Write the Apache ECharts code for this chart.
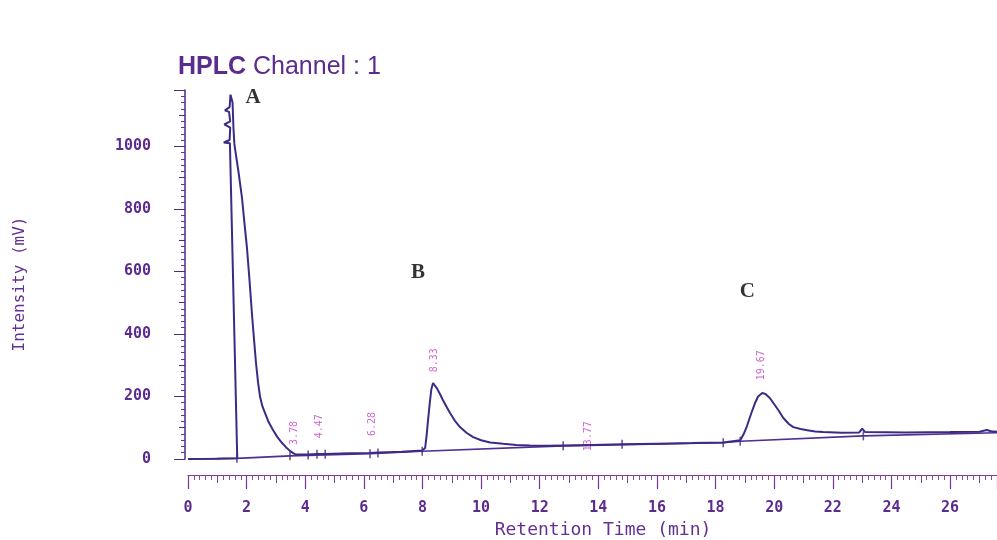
<!DOCTYPE html>
<html>
<head>
<meta charset="utf-8">
<script src="https://cdn.jsdelivr.net/npm/echarts@6/dist/echarts.min.js"></script>
<style>
html,body{margin:0;padding:0;background:#fff;}
#hplc{width:997px;height:540px;}
</style>
</head>
<body>
<div id="hplc"></div>
<script>
// detector trace: retention time (min) / intensity (mV)
const traceTime = [0, 1.0, 1.68, 1.43, 1.22, 1.42, 1.44, 1.24, 1.44, 1.40, 1.26, 1.42, 1.45, 1.52, 1.55, 1.58, 1.60,
  1.72, 1.84, 1.92, 2.01, 2.10, 2.18, 2.25, 2.32, 2.39, 2.46, 2.54, 2.63, 2.75, 2.90, 3.05, 3.21, 3.35, 3.48, 3.60, 3.69,
  4.1, 4.4, 4.7, 5.5, 6.2, 6.5, 7.3, 7.99,
  8.09, 8.14, 8.19, 8.25, 8.30, 8.36, 8.42, 8.50, 8.60, 8.70, 8.82, 8.94, 9.10, 9.28, 9.50, 9.73, 10.0, 10.31, 10.75, 11.2, 11.67, 12.3, 12.8,
  13.8, 14.81, 16.0, 17.2, 18.26,
  18.84, 18.95, 19.05, 19.15, 19.25, 19.35, 19.45, 19.59, 19.70, 19.85, 19.97, 20.15, 20.31, 20.50, 20.65, 20.90, 21.13, 21.40, 21.67,
  22.3, 22.9, 23.0, 23.1, 24.5, 26.0, 27.0, 27.25, 27.4, 27.6];
const traceSignal = [0, 1, 2, 1010, 1012, 1020, 1060, 1070, 1080, 1110, 1115, 1125, 1165, 1140, 1060, 1010, 995,
  920, 837, 760, 677, 570, 466, 385, 307, 245, 198, 168, 147, 118, 93, 70, 51, 37, 26, 18, 14,
  14, 16, 16, 18, 19, 21, 23, 27,
  35, 75, 125, 180, 222, 243, 240, 225, 207, 188, 167, 147, 123, 102, 84, 70, 60, 53, 49, 45, 43, 42, 43,
  45, 47, 49, 51, 53,
  60, 78, 100, 128, 155, 180, 200, 211, 208, 195, 179, 155, 131, 112, 102, 96, 92, 88, 86,
  84, 85, 97, 86, 85, 86, 87, 93, 89, 87];

// integration baseline
const baseTime = [0, 1.68, 3.48, 6.2, 7.99, 12.8, 18.26, 18.84, 23.04, 27.6];
const baseSignal = [0, 2, 10, 17, 25, 42, 52, 57, 74, 84];

// peak start / end markers
const eventTime = [1.67, 3.48, 4.1, 4.4, 4.68, 6.21, 6.48, 7.99, 12.8, 14.81, 18.26, 18.84, 23.04];
const eventSignal = [2, 10, 13, 15, 15, 17, 19, 25, 42, 47, 52, 57, 74];

// printed retention times
const rtText = ['3.78', '4.47', '6.28', '8.33', '13.77', '19.67'];
const rtTime = [3.62, 4.5, 6.28, 8.39, 13.65, 19.55];
const rtSignal = [83, 105, 112, 316, 73, 300];

// peak letters
const peakName = ['A', 'B', 'C'];
const peakTime = [2.22, 7.85, 19.08];
const peakSignal = [1157, 597, 534];

const xLabelStep = 2;
const yLabelStep = 200;

const purple = '#5b2c8e';
const ink = '#3e2a84';

let chart = echarts.init(document.getElementById('hplc'));

function pairs(a, b) {
  return a.map((v, i) => [v, b[i]]);
}

let option = {
  animation: false,
  backgroundColor: '#fff',
  title: {
    text: '{b|HPLC} Channel : 1',
    left: 173,
    top: 50,
    textStyle: {
      rich: {
        b: {fontFamily: 'Liberation Sans', fontSize: 25, fontWeight: 'bold', color: purple}
      },
      fontFamily: 'Liberation Sans',
      fontSize: 25,
      fontWeight: 'normal',
      color: purple
    }
  },
  grid: {left: 188, right: 0, top: 90, bottom: 81},
  xAxis: [{
    type: 'value',
    min: 0,
    max: 27.6,
    interval: xLabelStep,
    offset: 16,
    axisLine: {onZero: false, lineStyle: {color: '#7a3a9e', width: 1}},
    axisTick: {length: 14, lineStyle: {color: '#6a3596', width: 1.2}},
    minorTick: {show: true, splitNumber: 10, length: 5, lineStyle: {color: '#8a45a8'}},
    splitLine: {show: false},
    axisLabel: {
      margin: 26,
      showMaxLabel: false,
      color: purple,
      fontFamily: 'DejaVu Sans Mono',
      fontWeight: 'bold',
      fontSize: 15,
      formatter: v => (v % xLabelStep === 0 ? String(v) : '')
    }
  }, {
    type: 'value',
    position: 'bottom',
    min: 0,
    max: 27.6,
    interval: 1,
    offset: 16,
    axisLine: {show: false, onZero: false},
    axisTick: {length: 8, lineStyle: {color: '#7a3a9e'}},
    splitLine: {show: false},
    axisLabel: {show: false}
  }],
  yAxis: [{
    type: 'value',
    min: 0,
    max: 1180,
    interval: yLabelStep,
    offset: 3,
    axisLine: {show: true, onZero: false, lineStyle: {color: '#4a2a8a', width: 1.5}},
    axisTick: {show: true, length: 11, lineStyle: {color: '#4a2a8a'}},
    minorTick: {show: true, splitNumber: 10, length: 4, lineStyle: {color: '#6a3596'}},
    splitLine: {show: false},
    axisLabel: {
      margin: 34,
      color: purple,
      fontFamily: 'DejaVu Sans Mono',
      fontWeight: 'bold',
      fontSize: 15,
      formatter: v => (v % yLabelStep === 0 ? String(v) : '')
    }
  }, {
    type: 'value',
    position: 'left',
    min: 0,
    max: 1180,
    interval: 100,
    offset: 3,
    axisLine: {show: false, onZero: false},
    axisTick: {show: true, length: 6, lineStyle: {color: '#4a2a8a'}},
    splitLine: {show: false},
    axisLabel: {show: false}
  }],
  graphic: [{
    type: 'text',
    x: 603,
    y: 530,
    style: {
      text: 'Retention Time (min)',
      font: '18px "DejaVu Sans Mono"',
      fill: '#64308f',
      align: 'center',
      verticalAlign: 'middle'
    }
  }, {
    type: 'text',
    x: 20,
    y: 284,
    rotation: Math.PI / 2,
    style: {
      text: 'Intensity (mV)',
      font: '16px "DejaVu Sans Mono"',
      fill: '#64308f',
      align: 'center',
      verticalAlign: 'middle'
    }
  }],
  series: [{
    name: 'baseline',
    type: 'line',
    data: pairs(baseTime, baseSignal),
    symbol: 'none',
    lineStyle: {color: '#4e2f92', width: 1.6}
  }, {
    name: 'trace',
    type: 'line',
    data: pairs(traceTime, traceSignal),
    symbol: 'none',
    lineStyle: {color: ink, width: 2}
  }, {
    name: 'events',
    type: 'scatter',
    data: pairs(eventTime, eventSignal),
    symbol: 'rect',
    symbolSize: [1.6, 9],
    itemStyle: {color: '#3e2a84'}
  }, {
    name: 'rt',
    type: 'scatter',
    data: rtTime.map((t, i) => ({value: [t, rtSignal[i]], name: rtText[i]})),
    symbolSize: 0,
    label: {
      show: true,
      position: 'inside',
      rotate: 90,
      formatter: '{b}',
      color: '#c23cc4',
      textBorderWidth: 0,
      fontFamily: 'DejaVu Sans Mono',
      fontSize: 10
    }
  }, {
    name: 'peaks',
    type: 'scatter',
    data: peakTime.map((t, i) => ({value: [t, peakSignal[i]], name: peakName[i]})),
    symbolSize: 0,
    label: {
      show: true,
      position: 'inside',
      formatter: '{b}',
      color: '#000',
      textBorderWidth: 0,
      fontFamily: 'Liberation Serif',
      fontWeight: 'bold',
      fontSize: 21
    }
  }]
};

chart.setOption(option);
window.onresize = function () {
  chart.resize();
};
</script>
</body>
</html>
